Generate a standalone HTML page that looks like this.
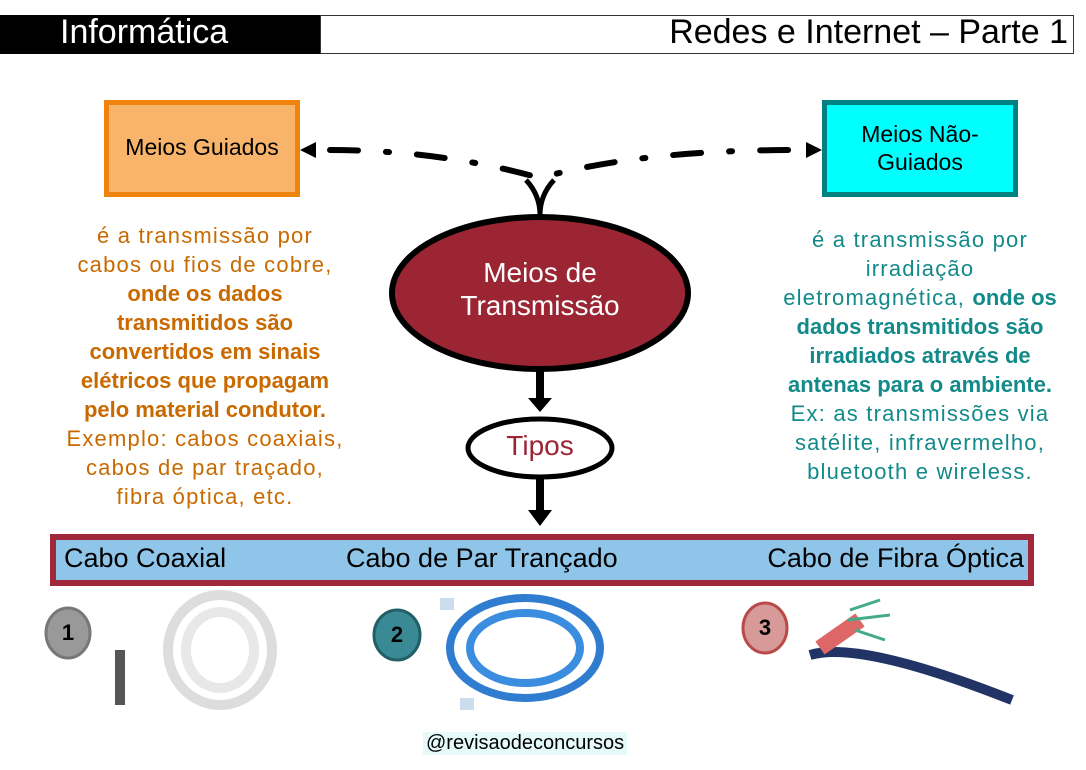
<!DOCTYPE html>
<html><head><meta charset="utf-8"><style>
body{margin:0;width:1086px;height:770px;background:#fff;position:relative;overflow:hidden;font-family:"Liberation Sans",sans-serif}
.a{position:absolute}
.lt{left:20px;width:370px;top:221px;text-align:center;color:#C86A00;font-size:22px;line-height:29px;letter-spacing:1.2px}
.rt{left:750px;width:340px;top:225px;text-align:center;color:#138A8A;font-size:22px;line-height:29px;letter-spacing:1.2px}
b{font-weight:bold;letter-spacing:0}
</style></head><body>
<div class="a" style="left:0;top:15px;width:320px;height:39px;background:#000"></div>
<div class="a" style="left:320px;top:15px;width:752px;height:37px;border:1px solid #333;"></div>
<div class="a" style="left:60px;top:13px;color:#fff;font-size:34px;">Informática</div>
<div class="a" style="right:18px;top:13px;color:#000;font-size:34px;">Redes e Internet – Parte 1</div>

<div class="a" style="left:104px;top:100px;width:186px;height:87px;background:#F8B46A;border:5px solid #F0820E;"></div>
<div class="a" style="left:104px;top:134px;width:196px;text-align:center;font-size:23px;">Meios Guiados</div>
<div class="a" style="left:822px;top:100px;width:186px;height:87px;background:#00FFFF;border:5px solid #008080;"></div>
<div class="a" style="left:822px;top:120px;width:196px;text-align:center;font-size:23px;line-height:28px">Meios Não-<br>Guiados</div>

<svg class="a" style="left:0;top:0" width="1086" height="770">
<path d="M330 150 Q440 150 540 178 Q640 150 795 150" fill="none" stroke="#000" stroke-width="6" stroke-dasharray="28 28 3 28" stroke-linecap="round"/>
<polygon points="300,150 316,142 316,158" fill="#000"/>
<polygon points="822,150 806,142 806,158" fill="#000"/>
<path d="M526 180 Q540 195 540 215 Q540 195 554 180" fill="none" stroke="#000" stroke-width="5"/>
<ellipse cx="540" cy="293" rx="148" ry="76" fill="#9B2533" stroke="#000" stroke-width="6"/>
<line x1="540" y1="370" x2="540" y2="400" stroke="#000" stroke-width="8"/>
<polygon points="528,398 552,398 540,412" fill="#000"/>
<ellipse cx="540" cy="448" rx="72" ry="29" fill="#fff" stroke="#000" stroke-width="5"/>
<line x1="540" y1="478" x2="540" y2="512" stroke="#000" stroke-width="8"/>
<polygon points="528,510 552,510 540,526" fill="#000"/>
<rect x="53" y="537" width="978" height="46" fill="#8EC5E8" stroke="#A0283A" stroke-width="6"/>
<ellipse cx="68" cy="633" rx="22" ry="25" fill="#999" stroke="#777" stroke-width="3"/>
<ellipse cx="397" cy="635" rx="23" ry="25" fill="#3A8A96" stroke="#235F66" stroke-width="3"/>
<ellipse cx="765" cy="628" rx="22" ry="25" fill="#D89A98" stroke="#B84A48" stroke-width="3"/>
<g fill="none" stroke="#ddd" stroke-width="10"><ellipse cx="220" cy="650" rx="52" ry="55"/><ellipse cx="220" cy="650" rx="34" ry="38" stroke="#e8e8e8"/></g>
<rect x="115" y="650" width="10" height="55" fill="#555"/>
<g fill="none" stroke="#2F7CD0" stroke-width="8"><ellipse cx="525" cy="648" rx="75" ry="50"/><ellipse cx="525" cy="648" rx="55" ry="35" stroke="#3B8DE0"/></g>
<rect x="440" y="598" width="14" height="12" fill="#cde"/><rect x="460" y="698" width="14" height="12" fill="#cde"/>
<path d="M810 655 Q860 640 1012 700" fill="none" stroke="#223366" stroke-width="10"/>
<path d="M820 648 L860 620" stroke="#d66" stroke-width="16"/>
<path d="M850 610 L880 600 M855 630 L885 640 M848 620 L890 615" stroke="#4a8" stroke-width="3"/>
</svg>
<div class="a" style="left:392px;top:256px;width:296px;text-align:center;color:#fff;font-size:28px;line-height:33px">Meios de<br>Transmissão</div>
<div class="a" style="left:468px;top:430px;width:144px;text-align:center;color:#9B2533;font-size:28px;">Tipos</div>
<div class="a" style="left:64px;top:543px;font-size:27px;">Cabo Coaxial</div>
<div class="a" style="left:346px;top:543px;font-size:27px;">Cabo de Par Trançado</div>
<div class="a" style="right:62px;top:543px;font-size:27px;">Cabo de Fibra Óptica</div>
<div class="a" style="left:56px;top:620px;width:24px;text-align:center;font-size:22px;font-weight:bold">1</div>
<div class="a" style="left:385px;top:622px;width:24px;text-align:center;font-size:22px;font-weight:bold">2</div>
<div class="a" style="left:753px;top:615px;width:24px;text-align:center;font-size:22px;font-weight:bold">3</div>

<div class="a lt">é a transmissão por<br>cabos ou fios de cobre,<br><b>onde os dados<br>transmitidos são<br>convertidos em sinais<br>elétricos que propagam<br>pelo material condutor.</b><br>Exemplo: cabos coaxiais,<br>cabos de par traçado,<br>fibra óptica, etc.</div>
<div class="a rt">é a transmissão por<br>irradiação<br>eletromagnética, <b>onde os<br>dados transmitidos são<br>irradiados através de<br>antenas para o ambiente.</b><br>Ex: as transmissões via<br>satélite, infravermelho,<br>bluetooth e wireless.</div>
<div class="a" style="left:423px;top:732px;background:#E6FAFA;font-size:20px;padding:0 3px">@revisaodeconcursos</div>
</body></html>
